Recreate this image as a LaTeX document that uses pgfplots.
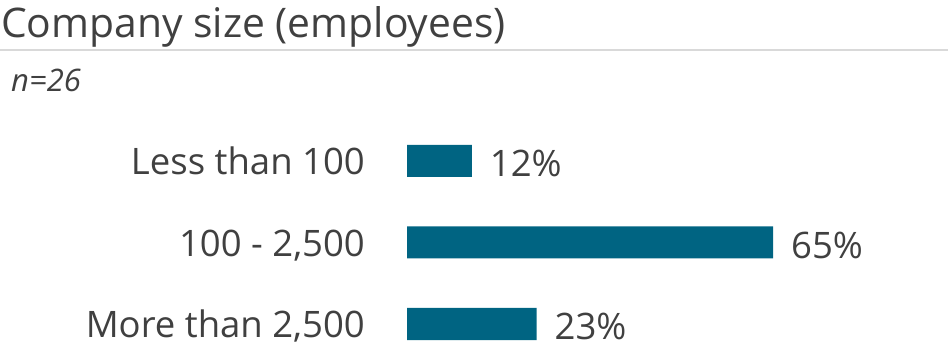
\documentclass[border=0pt]{standalone}
\usepackage{pgfplots}
\pgfplotsset{compat=1.18}
\usepackage{fontspec}
\setmainfont{Open Sans}
\definecolor{bar}{HTML}{006482}
\definecolor{txt}{HTML}{404040}
\begin{document}
\begin{tikzpicture}
\useasboundingbox (0,0) rectangle (948bp,349bp);
\node[anchor=base west, inner sep=0pt, text=txt, font=\fontsize{40.8bp}{44bp}\selectfont] at (1bp,311bp) {Company size (employees)};
\draw[line width=2bp, color=black!15] (0,298.5bp) -- (948bp,298.5bp);
\node[anchor=base west, inner sep=0pt, text=txt, font=\fontsize{31bp}{34bp}\selectfont\itshape] at (11bp,257bp) {n=26};
\begin{axis}[
  at={(407bp,25bp)}, anchor=south west,
  scale only axis, width=366bp, height=163bp,
  xmin=0, xmax=65, ymin=0, ymax=2,
  clip=false,
  xbar, bar width=32bp,
  axis x line=none,
  axis y line*=left,
  y axis line style={draw=none},
  ytick={0,1,2},
  yticklabels={More than 2{,}500, 100 - 2{,}500, Less than 100},
  major tick length=0pt,
  yticklabel style={anchor=base east, inner sep=0pt, xshift=-42bp, yshift=-14bp, text=txt, font=\fontsize{36.5bp}{40bp}\selectfont},
  /pgf/number format/assume math mode=true,
  nodes near coords={\pgfmathprintnumber{\pgfplotspointmeta}\%},
  point meta=explicit,
  nodes near coords style={anchor=base west, inner sep=0pt, xshift=18bp, yshift=-16bp, text=txt, font=\fontsize{36.5bp}{40bp}\selectfont},
]
\addplot[fill=bar, draw=none] coordinates {(23,0) [23] (65,1) [65] (11.5,2) [12]};
\end{axis}
\end{tikzpicture}
\end{document}
